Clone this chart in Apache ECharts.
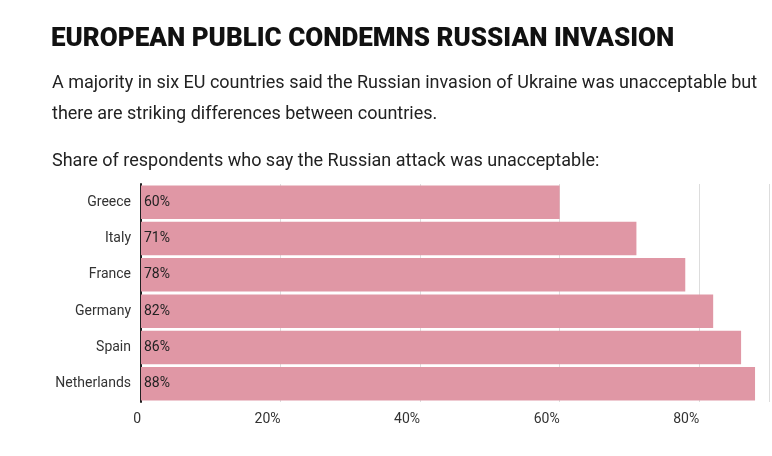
<!DOCTYPE html>
<html><head><meta charset="utf-8">
<script src="https://cdn.jsdelivr.net/npm/echarts@6/dist/echarts.min.js"></script>
<style>body{margin:0;background:#fff}#c{width:772px;height:456px}</style>
</head><body><div id="c"></div>
<script>
const countries = ["Greece","Italy","France","Germany","Spain","Netherlands"];
const values = [60,71,78,82,86,88];
const tickLabels = {0:"0",20:"20%",40:"40%",60:"60%",80:"80%"};
const chart = echarts.init(document.getElementById('c'));
chart.setOption({
  animation:false,
  title:[
    {text:"EUROPEAN PUBLIC CONDEMNS RUSSIAN INVASION",left:46,top:21,textStyle:{fontFamily:"Roboto",fontWeight:900,fontSize:26,color:"#111"}},
    {text:"A majority in six EU countries said the Russian invasion of Ukraine was unacceptable but\nthere are striking differences between countries.",left:47,top:63,textStyle:{fontFamily:"Roboto",fontWeight:"normal",fontSize:18,lineHeight:31,color:"#222"}},
    {text:"Share of respondents who say the Russian attack was unacceptable:",left:47,top:147,textStyle:{fontFamily:"Roboto",fontWeight:"normal",fontSize:18,color:"#222"}}
  ],
  grid:{left:141,right:3,top:184,bottom:54},
  xAxis:{type:"value",min:0,max:90,interval:20,
    axisLine:{show:false},axisTick:{show:false},
    splitLine:{show:true,lineStyle:{color:"#ddd"}},
    axisLabel:{formatter:v=>tickLabels[v]||"",align:"right",margin:10,color:"#333",fontSize:14,fontFamily:"Roboto"}},
  yAxis:{type:"category",data:countries,inverse:true,
    axisLine:{show:true,lineStyle:{color:"#222",width:2}},axisTick:{show:false},
    axisLabel:{color:"#333",fontSize:14,fontFamily:"Roboto",margin:10}},
  series:[{type:"bar",data:values,barCategoryGap:"8%",itemStyle:{color:"#e097a5"},
    label:{show:true,position:"insideLeft",offset:[-2,0],formatter:"{c}%",color:"#222",fontSize:14,fontFamily:"Roboto"}}]
});
</script></body></html>
